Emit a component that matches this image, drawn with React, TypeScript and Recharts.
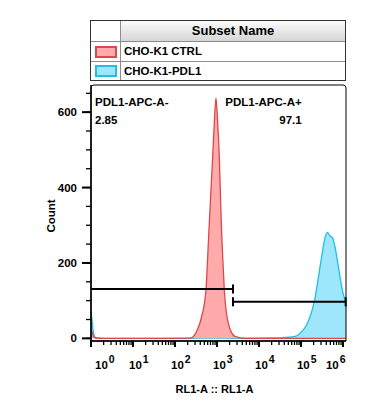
import React from 'react';
import { ComposedChart, Area, XAxis, YAxis, ReferenceArea, ReferenceLine, Legend } from 'recharts';

const FONT = '"Liberation Sans", Arial, Helvetica, sans-serif';

const ctrlIntensity = [1, 1.08, 1.16, 1.3, 2, 20, 228, 340, 432, 547, 601, 656, 720, 790, 863, 946, 1040, 1135, 1199, 1266, 1367, 1493, 1858, 2683, 4640, 1.5e6];
const ctrlCount = [24, 14, 4, 1, 0, 0, 0.5, 22, 58, 129, 217, 306, 394, 482, 571, 637, 571, 482, 394, 306, 217, 129, 40, 5, 0, 0];

const pdl1Intensity = [1, 1.06, 1.12, 1.2, 1.35, 2, 200, 1000, 3000, 31600, 49000, 71900, 104000, 136800, 180000, 215500, 258000, 311000, 372500, 423000, 490000, 568000, 645000, 731000, 848000, 984000, 1116000, 1468000];
const pdl1Count = [72, 48, 22, 6, 0.5, 0, 0, 1, 0, 1, 3, 5, 18, 36, 71, 107, 160, 217, 266, 281, 272, 266, 243, 208, 164, 124, 102, 70];

const subsetNames = ['CHO-K1 CTRL', 'CHO-K1-PDL1'];
const subsetFills = ['#ffabab', '#9de6fc'];
const subsetStrokes = ['#e0464b', '#20c0e6'];

const gateNames = ['PDL1-APC-A-', 'PDL1-APC-A+'];
const gateFreqs = ['2.85', '97.1'];
const gateFrom = [1, 2404];
const gateTo = [2404, 1.16e6];
const gateLevel = [131, 97];

const xDomain = [1, 1.18e6];
const yDomain = [-7, 672];
const xMajorTicks = [1, 10, 100, 1e3, 1e4, 1e5, 1e6];
const yMajorTicks = [0, 200, 400, 600];
const yMinorTicks = [50, 100, 150, 250, 300, 350, 450, 500, 550, 650];

const ctrlData = ctrlIntensity.map((x, i) => ({ x, count: ctrlCount[i] }));
const pdl1Data = pdl1Intensity.map((x, i) => ({ x, count: pdl1Count[i] }));

const xMinorTicks: number[] = [];
for (let n = 0; n < 6; n++) for (let k = 2; k < 10; k++) xMinorTicks.push(k * Math.pow(10, n));
const xTicks = [...xMajorTicks, ...xMinorTicks].sort((a, b) => a - b);
const yTicks = [...yMajorTicks, ...yMinorTicks].sort((a, b) => a - b);

const CAP = 12; // gate end cap half height, in counts
const X_TICK = 4;
const Y_TICK = 5;

const txt = { fontFamily: FONT, fontWeight: 700, fontSize: 11.5, fill: '#000' } as const;

// the axis draws every tick line (minor length); majors get an extension and a label
function XTick(props: any) {
  const { x, y, payload } = props;
  const lg = Math.log10(payload.value);
  const e = Math.round(lg);
  const major = Math.abs(lg - e) < 1e-6;
  if (!major) return <g />;
  const shift = e === 0 ? 4 : e === 6 ? -17 : -4;
  return (
    <g>
      <line x1={x} x2={x} y1={y - X_TICK} y2={y + 2} stroke="#000" strokeWidth={2} />
      <text x={x + shift} y={y - X_TICK + 28} {...txt}>
        10<tspan dx={1} dy={-6} fontSize={10.5}>{e}</tspan>
      </text>
    </g>
  );
}

function YTick(props: any) {
  const { x, y, payload } = props;
  if (!yMajorTicks.includes(payload.value)) return <g />;
  return (
    <g>
      <line x1={x - 4} x2={x + Y_TICK} y1={y} y2={y} stroke="#000" strokeWidth={2} />
      <text x={x + Y_TICK - 14} y={y + 4} textAnchor="end" {...txt}>{payload.value}</text>
    </g>
  );
}

function SubsetTable() {
  const line = '1px solid #8c8c8c';
  return (
    <div style={{ boxSizing: 'border-box', width: 256, height: 61, border: '1px solid #333', fontFamily: FONT, fontWeight: 700, fontSize: 11.5, color: '#000', background: '#fff' }}>
      <div style={{ boxSizing: 'border-box', display: 'flex', height: 21, borderBottom: line }}>
        <div style={{ width: 29, borderRight: line }} />
        <div style={{ flex: 1, textAlign: 'center', lineHeight: '20px', fontSize: 13, background: 'linear-gradient(#fbfbfb, #d6d6d6)' }}>Subset Name</div>
      </div>
      {subsetNames.map((name, i) => (
        <div key={name} style={{ boxSizing: 'border-box', display: 'flex', height: i === 0 ? 20 : 18, borderBottom: i === 0 ? line : 'none' }}>
          <div style={{ width: 29, borderRight: line, display: 'flex', alignItems: 'center', justifyContent: 'center' }}>
            <div style={{ boxSizing: 'border-box', width: 22, height: 12, background: subsetFills[i], border: `2px solid ${subsetStrokes[i]}` }} />
          </div>
          <div style={{ paddingLeft: 3, lineHeight: i === 0 ? '19px' : '18px' }}>{name}</div>
        </div>
      ))}
    </div>
  );
}

function gateLabel(i: number) {
  return (p: any) => {
    const vb = p.viewBox;
    if (i === 0) {
      return (
        <g>
          <text x={vb.x + 4} y={vb.y + 21} {...txt}>{gateNames[i]}</text>
          <text x={vb.x + 4} y={vb.y + 39} {...txt}>{gateFreqs[i]}</text>
        </g>
      );
    }
    return (
      <g>
        <text x={vb.x + vb.width - 44} y={vb.y + 21} textAnchor="end" {...txt}>{gateNames[i]}</text>
        <text x={vb.x + vb.width - 44} y={vb.y + 39} textAnchor="end" {...txt}>{gateFreqs[i]}</text>
      </g>
    );
  };
}

export default function App() {
  return (
    <div style={{ position: 'absolute', left: 0, top: 0, width: 367, height: 412, background: '#fff' }}>
      <ComposedChart width={367} height={412} margin={{ top: 85, right: 21, bottom: 0, left: 0 }}>
        <XAxis
          dataKey="x"
          type="number"
          scale="log"
          domain={xDomain}
          allowDataOverflow
          ticks={xTicks}
          interval={0}
          height={71}
          tickSize={X_TICK}
          tickMargin={0}
          tickLine={{ stroke: '#000', strokeWidth: 1.3 }}
          axisLine={{ stroke: '#000', strokeWidth: 1.5 }}
          tick={(p: any) => <XTick {...p} />}
          label={(p: any) => (
            <text x={p.viewBox.x + p.viewBox.width / 2 - 4} y={p.viewBox.y + 52} textAnchor="middle" {...txt} fontSize={11}>RL1-A :: RL1-A</text>
          )}
        />
        <YAxis
          type="number"
          domain={yDomain}
          allowDataOverflow
          ticks={yTicks}
          interval={0}
          width={91}
          tickSize={Y_TICK}
          tickMargin={0}
          tickLine={{ stroke: '#000', strokeWidth: 1.3 }}
          axisLine={{ stroke: '#000', strokeWidth: 1.5 }}
          tick={(p: any) => <YTick {...p} />}
          label={(p: any) => {
            const cx = p.viewBox.x + 55;
            const cy = p.viewBox.y + p.viewBox.height / 2 + 3;
            return <text x={cx} y={cy} transform={`rotate(-90 ${cx} ${cy})`} textAnchor="middle" {...txt}>Count</text>;
          }}
        />
        <Legend
          layout="vertical"
          align="center"
          verticalAlign="middle"
          content={() => <SubsetTable />}
          wrapperStyle={{ top: 20, left: 90, width: 256, height: 61 }}
        />
        <Area data={pdl1Data} dataKey="count" name={subsetNames[1]} type="monotone" baseValue={0}
          fill={subsetFills[1]} fillOpacity={1} stroke={subsetStrokes[1]} strokeWidth={1.3} isAnimationActive={false} />
        <Area data={ctrlData} dataKey="count" name={subsetNames[0]} type="monotone" baseValue={0}
          fill={subsetFills[0]} fillOpacity={1} stroke={subsetStrokes[0]} strokeWidth={1.3} isAnimationActive={false} />
        {gateNames.map((g, i) => (
          <ReferenceArea key={g} x1={gateFrom[i]} x2={gateTo[i]} fill="none" stroke="none" label={gateLabel(i)} />
        ))}
        {gateNames.map((g, i) => (
          <ReferenceLine key={'h' + g} segment={[{ x: gateFrom[i], y: gateLevel[i] }, { x: gateTo[i], y: gateLevel[i] }]} stroke="#000" strokeWidth={2} />
        ))}
        {gateNames.map((g, i) => (
          <ReferenceLine key={'c' + g} segment={[{ x: gateTo[i], y: gateLevel[i] - CAP }, { x: gateTo[i], y: gateLevel[i] + CAP }]} stroke="#000" strokeWidth={2} />
        ))}
        <ReferenceLine segment={[{ x: gateFrom[1], y: gateLevel[1] - CAP }, { x: gateFrom[1], y: gateLevel[1] + CAP }]} stroke="#000" strokeWidth={2} />
        <ReferenceArea x1={xDomain[0]} x2={xDomain[1]} y1={yDomain[0]} y2={yDomain[1]} fill="none" stroke="#000" radius={[3, 3, 0, 0]} />
      </ComposedChart>
    </div>
  );
}
